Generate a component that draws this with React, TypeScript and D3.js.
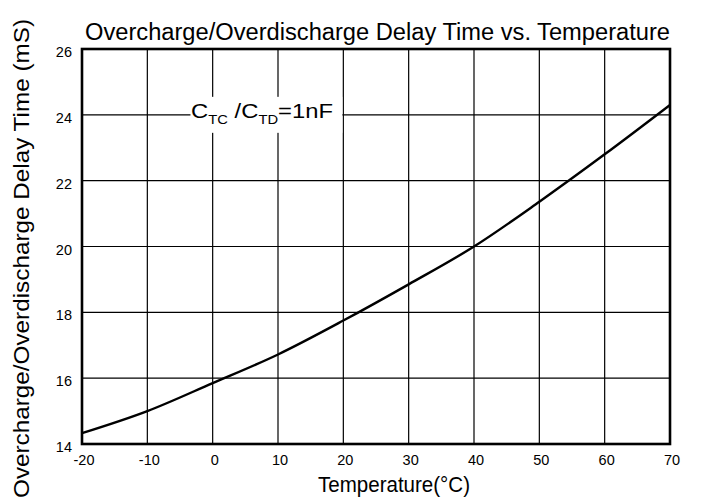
import { useEffect, useRef } from "react";
import * as d3 from "d3";

const temps = [-20, -10, 0, 10, 20, 30, 40, 50, 60, 70];
const delayMs = [14.33, 15.0, 15.85, 16.72, 17.75, 18.85, 20.0, 21.36, 22.8, 24.3];
const xTicks = [-20, -10, 0, 10, 20, 30, 40, 50, 60, 70];
const yTicks = [14, 16, 18, 20, 22, 24, 26];

const W = 702;
const H = 500;
const MARGIN = { top: 49, right: 32, bottom: 56, left: 82 };
const FONT = "Liberation Sans, Arial, sans-serif";

export default function App() {
  const svgRef = useRef<SVGSVGElement>(null);

  useEffect(() => {
    if (!svgRef.current) return;
    const svg = d3.select(svgRef.current);
    svg.selectAll("*").remove();

    const innerW = W - MARGIN.left - MARGIN.right;
    const innerH = H - MARGIN.top - MARGIN.bottom;

    const x = d3.scaleLinear().domain([-20, 70]).range([0, innerW]);
    const y = d3.scaleLinear().domain([14, 26]).range([innerH, 0]);

    svg.append("rect").attr("width", W).attr("height", H).attr("fill", "#fff");

    const g = svg
      .append("g")
      .attr("transform", `translate(${MARGIN.left},${MARGIN.top})`);

    // grid
    g.selectAll("line.vg")
      .data(xTicks)
      .join("line")
      .attr("class", "vg")
      .attr("x1", (d) => x(d))
      .attr("x2", (d) => x(d))
      .attr("y1", 0)
      .attr("y2", innerH)
      .attr("stroke", "#000")
      .attr("stroke-width", 1.2);

    g.selectAll("line.hg")
      .data(yTicks)
      .join("line")
      .attr("class", "hg")
      .attr("x1", 0)
      .attr("x2", innerW)
      .attr("y1", (d) => y(d))
      .attr("y2", (d) => y(d))
      .attr("stroke", "#000")
      .attr("stroke-width", 1.2);

    // annotation box covering grid, right edge on the 20 °C line
    g.append("rect")
      .attr("x", x(-3.4))
      .attr("y", y(24) - 18)
      .attr("width", x(20) - x(-3.4) - 1)
      .attr("height", 36)
      .attr("fill", "#fff");

    const ann = g
      .append("text")
      .attr("x", x(-3.3))
      .attr("y", y(24) + 3)
      .attr("font-family", FONT)
      .attr("font-size", 21)
      .attr("fill", "#000");
    ann.append("tspan").text("C");
    ann.append("tspan").attr("font-size", 13).attr("dy", 6).text("TC");
    ann.append("tspan").attr("dy", -6).text(" /C");
    ann.append("tspan").attr("font-size", 13).attr("dy", 6).text("TD");
    ann.append("tspan").attr("dy", -6).text("=1nF");
    const annW = (ann.node() as SVGTextElement).getBBox().width;
    if (annW > 0) {
      const sx = 142 / annW;
      const x0 = x(-3.3);
      ann.attr("transform", `translate(${x0},0) scale(${sx},1) translate(${-x0},0)`);
    }

    // curve
    const line = d3
      .line<number>()
      .x((_, i) => x(temps[i]))
      .y((d) => y(d))
      .curve(d3.curveMonotoneX);

    g.append("path")
      .datum(delayMs)
      .attr("d", line)
      .attr("fill", "none")
      .attr("stroke", "#000")
      .attr("stroke-width", 2.4);

    // frame
    g.append("rect")
      .attr("width", innerW)
      .attr("height", innerH)
      .attr("fill", "none")
      .attr("stroke", "#000")
      .attr("stroke-width", 2.6);

    // tick labels
    g.selectAll("text.xt")
      .data(xTicks)
      .join("text")
      .attr("class", "xt")
      .attr("x", (d) => x(d) + 2)
      .attr("y", innerH + 21)
      .attr("text-anchor", "middle")
      .attr("font-family", FONT)
      .attr("font-size", 14.5)
      .text((d) => d);

    g.selectAll("text.yt")
      .data(yTicks)
      .join("text")
      .attr("class", "yt")
      .attr("x", -10)
      .attr("y", (d) => y(d) + 8)
      .attr("text-anchor", "end")
      .attr("font-family", FONT)
      .attr("font-size", 14.5)
      .text((d) => d);

    // titles
    svg
      .append("text")
      .attr("x", 85)
      .attr("y", 40)
      .attr("font-family", FONT)
      .attr("font-size", 23)
      .attr("textLength", 585)
      .attr("lengthAdjust", "spacingAndGlyphs")
      .text("Overcharge/Overdischarge Delay Time vs. Temperature");

    svg
      .append("text")
      .attr("x", 318)
      .attr("y", 492)
      .attr("font-family", FONT)
      .attr("font-size", 22)
      .attr("textLength", 152)
      .attr("lengthAdjust", "spacingAndGlyphs")
      .text("Temperature(\u00B0C)");

    svg
      .append("text")
      .attr("transform", `translate(29,498) rotate(-90)`)
      .attr("font-family", FONT)
      .attr("font-size", 22)
      .attr("textLength", 479)
      .attr("lengthAdjust", "spacingAndGlyphs")
      .text("Overcharge/Overdischarge Delay Time (mS)");
  }, []);

  return (
    <svg
      ref={svgRef}
      width={W}
      height={H}
      style={{ position: "absolute", left: 0, top: 0 }}
    />
  );
}
